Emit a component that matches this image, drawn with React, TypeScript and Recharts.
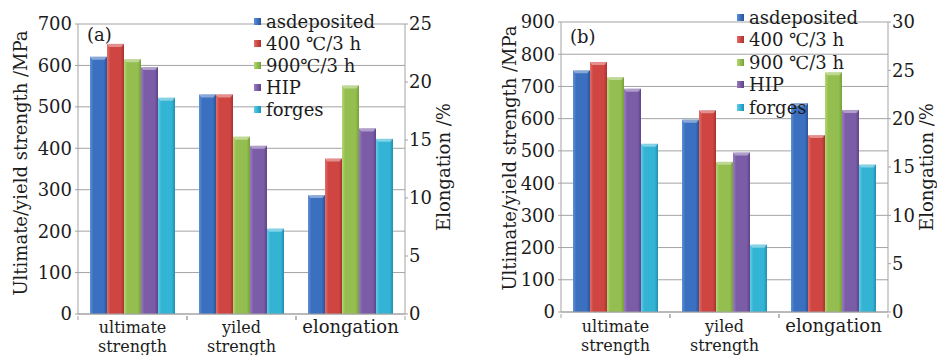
import React from 'react';
import { BarChart, Bar, XAxis, YAxis, CartesianGrid } from 'recharts';

const categories = ['ultimate strength', 'yiled strength', 'elongation'];
const seriesKeys = ['asdeposited', 'h400', 'h900', 'hip', 'forges'];
const legendA = ['asdeposited', '400 ℃/3 h', '900℃/3 h', 'HIP', 'forges'];
const legendB = ['asdeposited', '400 ℃/3 h', '900 ℃/3 h', 'HIP', 'forges'];

// chart (a): ultimate MPa, yield MPa, elongation %
const asdepositedA = [621, 530, 10.25];
const h400A = [652, 530, 13.4];
const h900A = [615, 428, 19.7];
const hipA = [596, 406, 16.0];
const forgesA = [522, 206, 15.1];

// chart (b)
const asdepositedB = [750, 597, 21.6];
const h400B = [776, 626, 18.3];
const h900B = [729, 466, 24.8];
const hipB = [693, 495, 20.9];
const forgesB = [522, 209, 15.25];

const leftTicksA = [0, 100, 200, 300, 400, 500, 600, 700];
const rightTicksA = [0, 5, 10, 15, 20, 25];
const leftTicksB = [0, 100, 200, 300, 400, 500, 600, 700, 800, 900];
const rightTicksB = [0, 5, 10, 15, 20, 25, 30];

const COLORS: Record<string, { light: string; base: string; dark: string }> = {
  asdeposited: { light: '#5f8fd6', base: '#3b6fbf', dark: '#2a5598' },
  h400: { light: '#e36e6a', base: '#cf4542', dark: '#a93332' },
  h900: { light: '#b3d672', base: '#94bf50', dark: '#76a03a' },
  hip: { light: '#9a7cc0', base: '#7b5ca7', dark: '#5e4488' },
  forges: { light: '#62cde8', base: '#33b4d5', dark: '#2090b2' },
};

const FONT = '"DejaVu Serif", serif';
const AXIS = '#a3a3a3';

const buildRows = (series: number[][]) =>
  categories.map((cat, i) => {
    const row: Record<string, any> = { cat };
    seriesKeys.forEach((k, j) => {
      // strength bars go on the MPa axis, elongation bars on the % axis
      row[`s_${k}`] = i < 2 ? series[j][i] : null;
      row[`e_${k}`] = i === 2 ? series[j][i] : null;
    });
    return row;
  });

const rowsA = buildRows([asdepositedA, h400A, h900A, hipA, forgesA]);
const rowsB = buildRows([asdepositedB, h400B, h900B, hipB, forgesB]);

const BevelBar = (props: any) => {
  const { x, y, width, height, gradId } = props;
  if (!height || height <= 0) return null;
  return (
    <g>
      <rect x={x} y={y} width={width} height={height} fill={`url(#${gradId})`} />
      <path
        d={`M${x},${y} L${x + width},${y} L${x + width - 2.5},${y + 3} L${x + 2.5},${y + 3} Z`}
        fill="#ffffff"
        opacity={0.4}
      />
    </g>
  );
};

const CatTick = (props: any) => {
  const { x, y, payload, width, visibleTicksCount, firstDy, secondDy } = props;
  const step = width / (visibleTicksCount || 3);
  const words = payload.value === 'elongation' ? ['elongation'] : payload.value.split(' ');
  return (
    <g>
      <line x1={x - step / 2} y1={y} x2={x - step / 2} y2={y + 4} stroke={AXIS} />
      <line x1={x + step / 2} y1={y} x2={x + step / 2} y2={y + 4} stroke={AXIS} />
      <text
        x={x}
        y={y}
        textAnchor="middle"
        fontFamily={FONT}
        fontSize={words.length > 1 ? 16 : 18}
        fill="#1c1c1c"
      >
        {words.map((w: string, i: number) => (
          <tspan key={i} x={x} dy={i === 0 ? firstDy : secondDy}>
            {w}
          </tspan>
        ))}
      </text>
    </g>
  );
};

const vTitle = (text: string, dx: number, dy: number) => (props: any) => {
  const vb = props.viewBox;
  const cx = vb.x + dx;
  const cy = vb.y + vb.height / 2 + dy;
  return (
    <text
      x={cx}
      y={cy}
      transform={`rotate(-90 ${cx} ${cy})`}
      textAnchor="middle"
      dominantBaseline="central"
      fontFamily={FONT}
      fontSize={18}
      fill="#1c1c1c"
    >
      {text}
    </text>
  );
};

const tickStyle = { fontFamily: FONT, fontSize: 18, fill: '#1c1c1c' };

interface PanelProps {
  id: string;
  rows: Record<string, any>[];
  width: number;
  top: number;
  xHeight: number;
  leftWidth: number;
  rightWidth: number;
  leftMax: number;
  rightMax: number;
  leftTicks: number[];
  rightTicks: number[];
  leftTitleDx: number;
  leftTitleDy: number;
  rightTitleDx: number;
  rightTitleDy: number;
  firstDy: number;
  secondDy: number;
}

function Panel(p: PanelProps) {
  return (
    <BarChart
      width={p.width}
      height={355}
      data={p.rows}
      margin={{ top: p.top, right: 0, left: 0, bottom: 0 }}
      barCategoryGap={12}
      barGap={0}
    >
      <defs>
        {seriesKeys.map((k) => (
          <linearGradient key={k} id={`${p.id}-${k}`} x1="0" y1="0" x2="1" y2="0">
            <stop offset="0%" stopColor={COLORS[k].light} />
            <stop offset="20%" stopColor={COLORS[k].base} />
            <stop offset="80%" stopColor={COLORS[k].base} />
            <stop offset="100%" stopColor={COLORS[k].dark} />
          </linearGradient>
        ))}
      </defs>
      <CartesianGrid yAxisId="left" vertical={false} stroke={AXIS} />
      <XAxis
        dataKey="cat"
        height={p.xHeight}
        axisLine={{ stroke: AXIS }}
        tickLine={false}
        tickSize={0}
        interval={0}
        tick={<CatTick firstDy={p.firstDy} secondDy={p.secondDy} />}
      />
      <YAxis
        yAxisId="left"
        width={p.leftWidth}
        domain={[0, p.leftMax]}
        ticks={p.leftTicks}
        interval={0}
        tickSize={3}
        tickMargin={3}
        axisLine={{ stroke: AXIS }}
        tickLine={{ stroke: AXIS }}
        tick={tickStyle}
        label={{ content: vTitle('Ultimate/yield strength /MPa', p.leftTitleDx, p.leftTitleDy) }}
      />
      <YAxis
        yAxisId="right"
        orientation="right"
        width={p.rightWidth}
        domain={[0, p.rightMax]}
        ticks={p.rightTicks}
        interval={0}
        tickSize={3}
        tickMargin={1}
        axisLine={{ stroke: AXIS }}
        tickLine={{ stroke: AXIS }}
        tick={tickStyle}
        label={{ content: vTitle('Elongation /%', p.rightTitleDx, p.rightTitleDy) }}
      />
      {seriesKeys.map((k) => (
        <Bar
          key={`s_${k}`}
          yAxisId="left"
          dataKey={`s_${k}`}
          stackId={k}
          isAnimationActive={false}
          shape={(sp: any) => <BevelBar {...sp} gradId={`${p.id}-${k}`} />}
        />
      ))}
      {seriesKeys.map((k) => (
        <Bar
          key={`e_${k}`}
          yAxisId="right"
          dataKey={`e_${k}`}
          stackId={k}
          isAnimationActive={false}
          shape={(sp: any) => <BevelBar {...sp} gradId={`${p.id}-${k}`} />}
        />
      ))}
    </BarChart>
  );
}

function LegendBox({ labels, left, top, lineHeight }: any) {
  return (
    <div style={{ position: 'absolute', left, top, fontFamily: FONT, fontSize: 18, color: '#1c1c1c' }}>
      {labels.map((label: string, i: number) => (
        <div key={label} style={{ display: 'flex', alignItems: 'center', height: lineHeight, whiteSpace: 'nowrap' }}>
          <span
            style={{
              display: 'inline-block',
              width: 7,
              height: 7,
              marginRight: 5,
              background: `linear-gradient(90deg, ${COLORS[seriesKeys[i]].light}, ${COLORS[seriesKeys[i]].base} 50%, ${COLORS[seriesKeys[i]].dark})`,
            }}
          />
          <span>{label}</span>
        </div>
      ))}
    </div>
  );
}

export default function App() {
  return (
    <div style={{ position: 'absolute', left: 0, top: 0, width: 937, height: 355, background: '#fff', overflow: 'hidden' }}>
      <div style={{ position: 'absolute', left: 0, top: 0 }}>
        <Panel
          id="a"
          rows={rowsA}
          width={468}
          top={24}
          xHeight={41}
          leftWidth={78}
          rightWidth={63}
          leftMax={700}
          rightMax={25}
          leftTicks={leftTicksA}
          rightTicks={rightTicksA}
          leftTitleDx={20}
          leftTitleDy={-6}
          rightTitleDx={38}
          rightTitleDy={-2}
          firstDy={17}
          secondDy={19}
        />
      </div>
      <div style={{ position: 'absolute', left: 468, top: 0 }}>
        <Panel
          id="b"
          rows={rowsB}
          width={469}
          top={22}
          xHeight={43}
          leftWidth={93}
          rightWidth={49}
          leftMax={900}
          rightMax={30}
          leftTicks={leftTicksB}
          rightTicks={rightTicksB}
          leftTitleDx={41}
          leftTitleDy={-9}
          rightTitleDx={38}
          rightTitleDy={0}
          firstDy={18}
          secondDy={19}
        />
      </div>
      <LegendBox labels={legendA} left={254} top={10} lineHeight={22} />
      <LegendBox labels={legendB} left={737} top={6} lineHeight={22.5} />
      <div style={{ position: 'absolute', left: 87, top: 24, fontFamily: FONT, fontSize: 18, lineHeight: '22px', color: '#1c1c1c' }}>(a)</div>
      <div style={{ position: 'absolute', left: 570, top: 26, fontFamily: FONT, fontSize: 18, lineHeight: '22px', color: '#1c1c1c' }}>(b)</div>
    </div>
  );
}
